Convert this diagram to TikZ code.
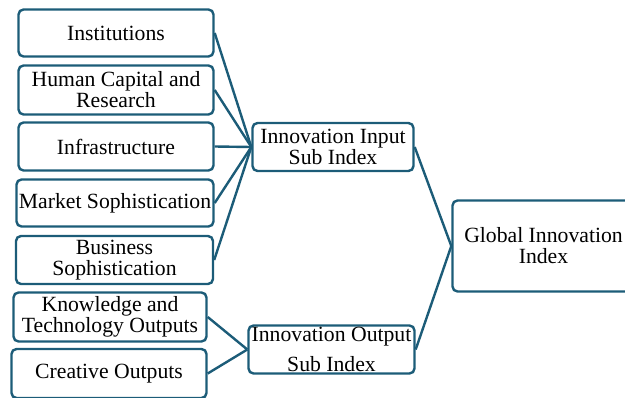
\documentclass[tikz,border=0pt]{standalone}
\usepackage{fontspec}
\setmainfont{Liberation Serif}
\definecolor{giiblue}{RGB}{28,92,120}
\tikzset{
  box/.style={draw=giiblue,line width=2.4pt,rounded corners=5pt,align=center,inner sep=0pt,
    font=\fontsize{21.7}{21}\selectfont},
  link/.style={draw=giiblue,line width=2.4pt}
}

\begin{document}
\begin{tikzpicture}[x=1pt,y=-1pt]
                \useasboundingbox (0,0) rectangle (625,397);
                \clip (0,0) rectangle (625,397);
                % pillars
                \node[box,minimum width=195,minimum height=47] (inst) at (116,33) {Institutions};
                \node[box,minimum width=195,minimum height=49] (hcr) at (116,90) {Human Capital and\\Research};
                \node[box,minimum width=195,minimum height=48] (infra) at (116,146.5) {Infrastructure};
                \node[box,minimum width=197,minimum height=47] (mkt) at (115,203) {Market Sophistication};
                \node[box,minimum width=197,minimum height=48] (bus) at (114.5,260) {Business\\Sophistication};
                \node[box,minimum width=193,minimum height=49] (know) at (110,317) {Knowledge and\\Technology Outputs};
                \node[box,minimum width=195,minimum height=49] (crea) at (109,373.5) {Creative Outputs};
                % sub indices
                \node[box,minimum width=161,minimum height=48] (input) at (333,147) {Innovation Input\\Sub Index};
                \node[box,minimum width=166,minimum height=48] (output) at (331.5,349.5) {Innovation Output\\[9pt]Sub Index};
                \node[box,minimum width=182,minimum height=91] (gii) at (543.5,246) {Global Innovation\\Index};
                % links
                \foreach \p in {inst,hcr,infra,mkt,bus}{
                    \draw[link] (\p.east)--(input.west);
                }
                \foreach \p in {know,crea}{
                    \draw[link] (\p.east)--(output.west);
                }
                \foreach \s in {input,output}{
                    \draw[link] (\s.east)--(gii.west);
                }
            \end{tikzpicture}
\end{document}
